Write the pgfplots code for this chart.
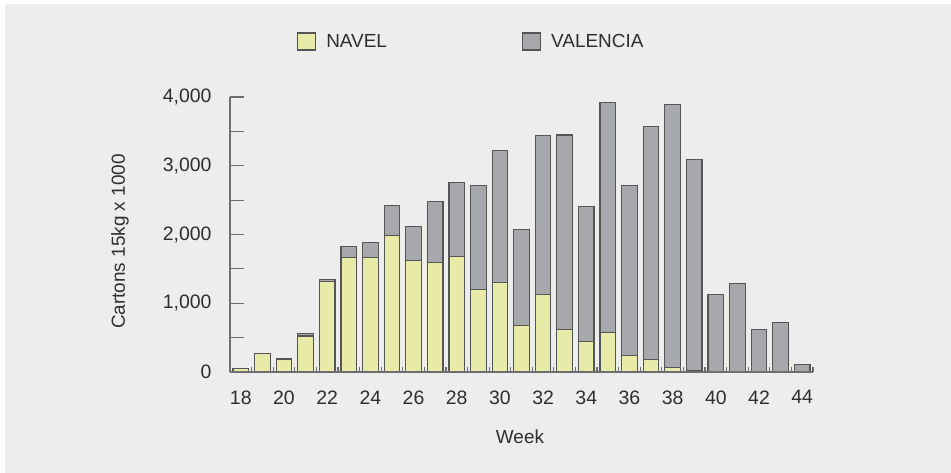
\documentclass[border=0pt]{standalone}
\usepackage{fontspec}
\setmainfont{Liberation Sans}
\usepackage{pgfplots}
\usepackage{pgfplotstable}
\pgfplotsset{compat=1.18}
\definecolor{bg}{HTML}{EDEDED}
\definecolor{navel}{HTML}{E8EAA8}
\definecolor{valencia}{HTML}{A7A8AC}
\definecolor{edge}{HTML}{555555}
\definecolor{axisc}{HTML}{6E6E6E}
\definecolor{txt}{HTML}{2E2E2E}
\pgfplotstableread{
week navel valencia
18 50 0
19 265 0
20 190 10
21 523 34
22 1322 19
23 1666 160
24 1666 218
25 1985 436
26 1617 494
27 1593 891
28 1676 1079
29 1196 1516
30 1298 1922
31 678 1390
32 1123 2320
33 620 2828
34 446 1956
35 576 3346
36 242 2465
37 184 3390
38 68 3825
39 15 3075
40 0 1123
41 0 1288
42 0 615
43 0 722
44 0 107
}\data
\begin{document}
\begin{tikzpicture}
\path[use as bounding box] (-230bp,-101bp) rectangle (721bp,372bp);
\fill[white] (-230bp,-101bp) rectangle (721bp,372bp);
\fill[bg] (-225bp,-101bp) rectangle (721bp,368bp);
\begin{axis}[
  at={(0,0)}, anchor=south west,
  width=583bp, height=275bp, scale only axis,
  xmin=17.5, xmax=44.5, ymin=0, ymax=4000,
  axis x line=bottom, axis y line=left,
  axis line style={draw=axisc, line width=1.2bp, -},
  axis on top,
  ybar stacked, bar width=15.6bp,
  xtick={18,20,...,44},
  xticklabels={18,20,22,24,26,28,30,32,34,36,38,40,42,44},
  minor xtick={17.5,18.5,...,44.5},
  ytick={0,500,...,4000},
  yticklabels={0,,{1,000},,{2,000},,{3,000},,{4,000}},
  tick align=inside, major tick length=14bp, minor tick length=5bp,
  tick style={draw=axisc, line width=1.2bp},
  major x tick style={draw=none},
  /pgf/number format/assume math mode=true,
  ticklabel style={font=\fontsize{19.5}{22}\selectfont, text=txt},
  xticklabel style={yshift=-15bp},
  yticklabel style={xshift=-15bp},
  xlabel={Week}, ylabel={Cartons 15kg x 1000},
  xlabel style={at={(axis description cs:0.4974,-0.2364)}, anchor=center, font=\fontsize{19}{22}\selectfont, text=txt},
  ylabel style={at={(axis description cs:-0.1887,0.4745)}, anchor=center, font=\fontsize{19}{22}\selectfont, text=txt},
  legend columns=2,
  legend style={at={(axis description cs:0.1097,1.2018)}, anchor=west, draw=none, fill=none,
    font=\fontsize{19}{22}\selectfont, text=txt,
    /tikz/every odd column/.append style={column sep=8bp},
    /tikz/every even column/.append style={column sep=133bp}},
  legend image code/.code={\draw[#1, line width=1.2bp] (0bp,-8.5bp) rectangle (18bp,8.5bp);},
]
\addplot[fill=navel, draw=edge, line width=1.2bp] table[x=week, y=navel]{\data};
\addplot[fill=valencia, draw=edge, line width=1.2bp] table[x=week, y=valencia]{\data};
\legend{NAVEL, VALENCIA}
\end{axis}
\end{tikzpicture}
\end{document}
